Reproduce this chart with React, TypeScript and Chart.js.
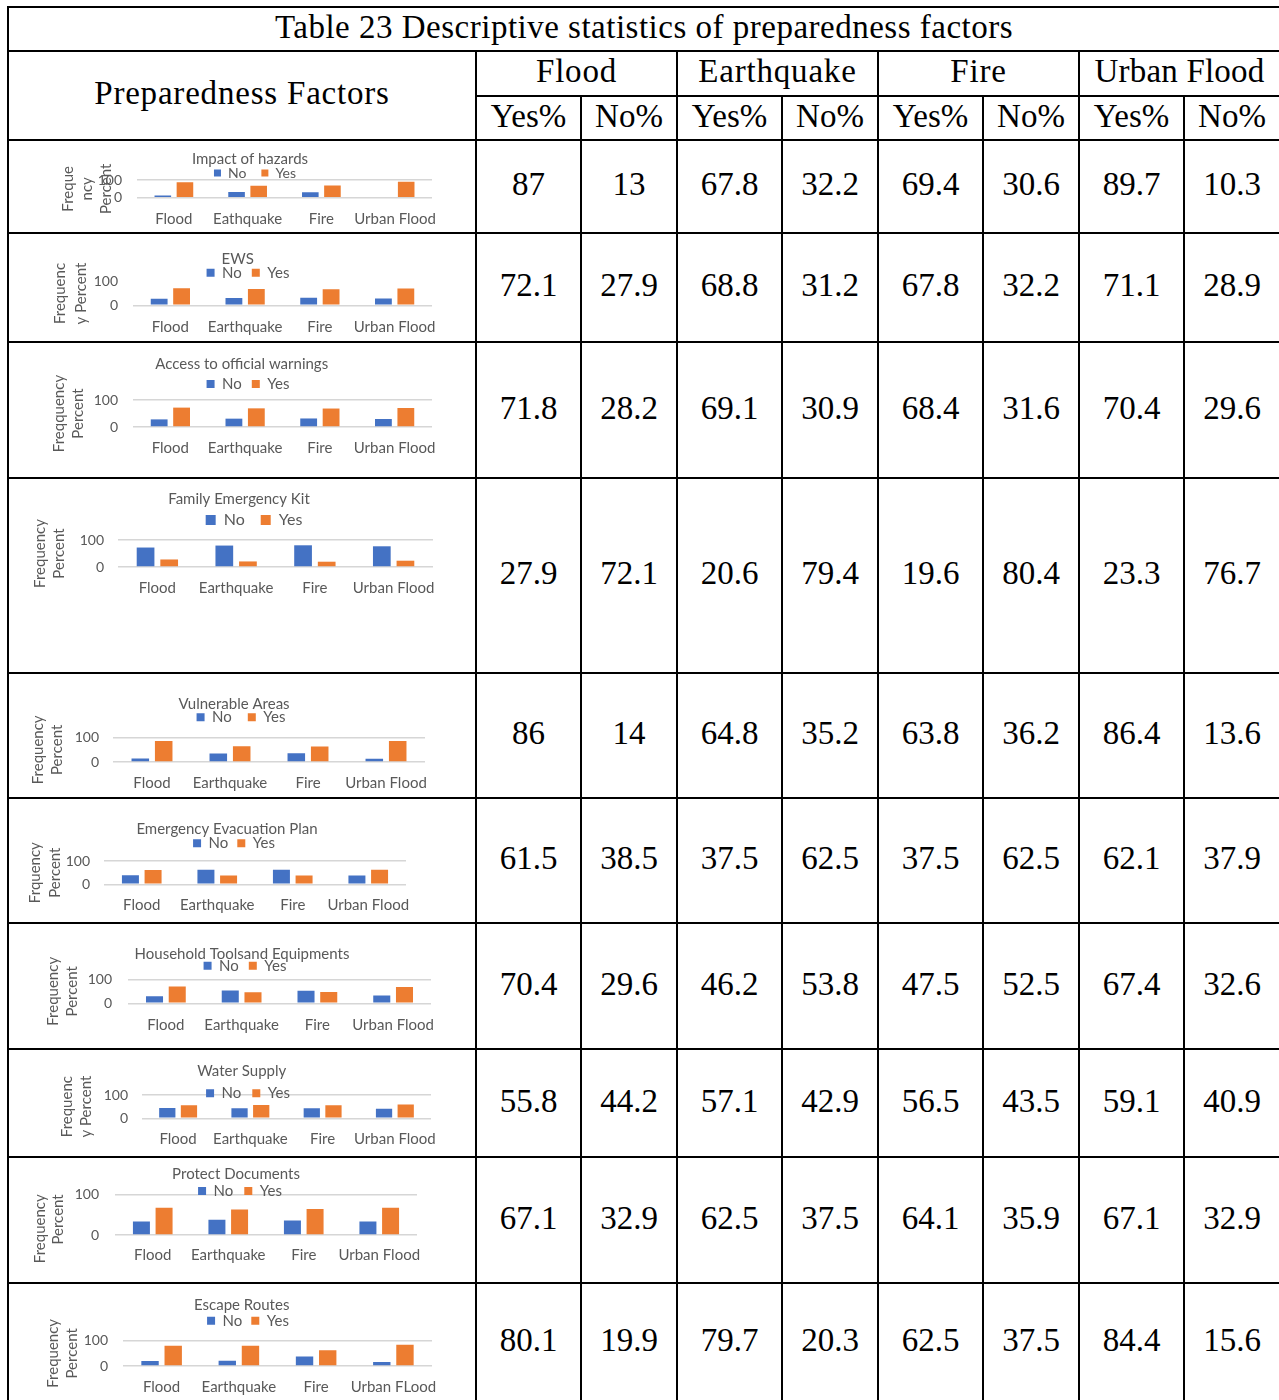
import React, { useEffect, useRef } from 'react';
import { Chart, registerables } from 'chart.js';

Chart.register(...registerables);

// ---------------- data ----------------
const hazards = ['Flood', 'Earthquake', 'Fire', 'Urban Flood'];
const impactLabels = ['Flood', 'Eathquake', 'Fire', 'Urban Flood'];
const escapeLabels = ['Flood', 'Earthquake', 'Fire', 'Urban FLood'];

const tableTitle = 'Table 23 Descriptive statistics of preparedness factors';
const firstHeader = 'Preparedness Factors';
const groupHeads = ['Flood', 'Earthquake', 'Fire', 'Urban Flood'];
const subHeads = ['Yes%', 'No%'];

const chartTitles = [
  'Impact of hazards',
  'EWS',
  'Access to official warnings',
  'Family Emergency Kit',
  'Vulnerable Areas',
  'Emergency Evacuation Plan',
  'Household Toolsand Equipments',
  'Water Supply',
  'Protect Documents',
  'Escape Routes',
];

const axisTitles = [
  ['Freque', 'ncy', 'Percent'],
  ['Frequenc', 'y Percent'],
  ['Freqquency', 'Percent'],
  ['Frequency', 'Percent'],
  ['Frequency', 'Percent'],
  ['Frquency', 'Percent'],
  ['Frequency', 'Percent'],
  ['Frequenc', 'y Percent'],
  ['Frequency', 'Percent'],
  ['Frequency', 'Percent'],
];

// Yes% per hazard (Flood, Earthquake, Fire, Urban Flood)
const yesPct = [
  [87, 67.8, 69.4, 89.7],
  [72.1, 68.8, 67.8, 71.1],
  [71.8, 69.1, 68.4, 70.4],
  [27.9, 20.6, 19.6, 23.3],
  [86, 64.8, 63.8, 86.4],
  [61.5, 37.5, 37.5, 62.1],
  [70.4, 46.2, 47.5, 67.4],
  [55.8, 57.1, 56.5, 59.1],
  [67.1, 62.5, 64.1, 67.1],
  [80.1, 79.7, 62.5, 84.4],
];
// No% per hazard
const noPct = [
  [13, 32.2, 30.6, 10.3],
  [27.9, 31.2, 32.2, 28.9],
  [28.2, 30.9, 31.6, 29.6],
  [72.1, 79.4, 80.4, 76.7],
  [14, 35.2, 36.2, 13.6],
  [38.5, 62.5, 62.5, 37.9],
  [29.6, 53.8, 52.5, 32.6],
  [44.2, 42.9, 43.5, 40.9],
  [32.9, 37.5, 35.9, 32.9],
  [19.9, 20.3, 37.5, 15.6],
];
// the "Impact of hazards" chart shows no Urban Flood "No" bar
const impactChartNo = [13, 32.2, 30.6, 0];

// ---------------- layout / style ----------------
const GRAY = '#595959';
const BLUE = '#4472C4';
const ORANGE = '#ED7D31';
const GRID = '#D6D6D6';
const CFONT = 'Lato, "Noto Sans", sans-serif';
const TFONT = '"Liberation Serif", "Times New Roman", serif';
const CANVAS_LEFT = 10;
const XFS = 15;

type Lay = {
  tx: number; ty: number; tfs: number; lx: number; ly: number; lfs: number; bw: number; lp: number;
  y100: number; y0: number; gridL: number; gridR: number; xLabY: number; yt1: number; ytLh: number;
  tickR: number; hide100?: boolean; ytAlign?: string;
};

const chartLayout: Lay[] = [
  { tx: 250, ty: 158.7, tfs: 15, lx: 255, ly: 173, lfs: 14, bw: 7, lp: 15, y100: 180, y0: 197.7, gridL: 137, gridR: 432, xLabY: 219, yt1: 68, ytLh: 19, tickR: 122 },
  { tx: 237.7, ty: 259.3, tfs: 15, lx: 248, ly: 272.7, lfs: 15, bw: 8, lp: 10, y100: 281.7, y0: 305.3, gridL: 133, gridR: 432, xLabY: 326.7, yt1: 60, ytLh: 21, tickR: 118, hide100: true },
  { tx: 241.7, ty: 364.3, tfs: 15, lx: 248, ly: 384, lfs: 15, bw: 8, lp: 10, y100: 400, y0: 427, gridL: 133, gridR: 432, xLabY: 448, yt1: 59, ytLh: 19, tickR: 118 },
  { tx: 239, ty: 499, tfs: 15, lx: 254, ly: 520, lfs: 16, bw: 10, lp: 16, y100: 540, y0: 567, gridL: 118, gridR: 433, xLabY: 588, yt1: 40, ytLh: 19, tickR: 104 },
  { tx: 234, ty: 704.3, tfs: 15, lx: 241, ly: 717.3, lfs: 15, bw: 8, lp: 16, y100: 737.7, y0: 762, gridL: 113, gridR: 425, xLabY: 782.7, yt1: 38, ytLh: 19, tickR: 99 },
  { tx: 227, ty: 829.3, tfs: 15, lx: 234, ly: 843.3, lfs: 15, bw: 8, lp: 9, y100: 861, y0: 884.3, gridL: 104, gridR: 406, xLabY: 905.3, yt1: 35, ytLh: 20, tickR: 90 },
  { tx: 242, ty: 954, tfs: 15, lx: 245, ly: 965.7, lfs: 15, bw: 8, lp: 10, y100: 979.3, y0: 1003.3, gridL: 128, gridR: 431, xLabY: 1025, yt1: 53, ytLh: 19, tickR: 112 },
  { tx: 241.7, ty: 1071, tfs: 15, lx: 248, ly: 1093.3, lfs: 15, bw: 8, lp: 11, y100: 1095, y0: 1118.3, gridL: 142, gridR: 431, xLabY: 1139.3, yt1: 67, ytLh: 19, tickR: 128 },
  { tx: 236, ty: 1174.3, tfs: 15, lx: 240, ly: 1191, lfs: 15, bw: 8, lp: 11, y100: 1194.3, y0: 1235, gridL: 115, gridR: 417, xLabY: 1255.3, yt1: 40, ytLh: 18, tickR: 99, ytAlign: 'end' },
  { tx: 241.7, ty: 1305, tfs: 15, lx: 248, ly: 1320.7, lfs: 15, bw: 8, lp: 9, y100: 1340.7, y0: 1366, gridL: 123, gridR: 432, xLabY: 1387.3, yt1: 53, ytLh: 19, tickR: 108 },
];

// table grid lines (left/top edges, 2px thick)
const vLines = [
  { x: 7, y: 6 }, { x: 475, y: 50 }, { x: 580, y: 95 }, { x: 676, y: 50 }, { x: 781, y: 95 },
  { x: 877, y: 50 }, { x: 982, y: 95 }, { x: 1078, y: 50 }, { x: 1183, y: 95 },
];
const headLines = [{ y: 6, x: 7 }, { y: 50, x: 7 }, { y: 95, x: 475 }];
const rowLines = [139, 232, 341, 477, 672, 797, 922, 1048, 1156, 1282];
const colLines = [475, 580, 676, 781, 877, 982, 1078, 1183, 1279];
const PAGE_W = 1279;
const PAGE_H = 1400;

function MiniChart({ i }: { i: number }) {
  const ref = useRef<HTMLCanvasElement | null>(null);
  const L = chartLayout[i];
  const top = Math.floor(L.ty - 14);
  const right = L.gridR + 22;
  const xLh = XFS * 1.2;
  const xPad = L.xLabY - L.y0 - xLh / 2;
  const xAxisH = xPad + xLh + 2;
  const H = Math.ceil(L.y0 + xAxisH - top);
  const W = right - CANVAS_LEFT;

  useEffect(() => {
    const c = ref.current;
    if (!c) return;
    const labels = i === 0 ? impactLabels : i === 9 ? escapeLabels : hazards;
    const noData = i === 0 ? impactChartNo : noPct[i];
    const tLh = L.tfs * 1.2;
    const placer = {
      id: 'placer',
      afterLayout(chart: any) {
        const t = chart.titleBlock;
        if (t) {
          t.left = L.tx - CANVAS_LEFT - 200;
          t.right = t.left + 400;
          t.top = L.ty - top - tLh / 2;
          t.bottom = t.top + tLh;
        }
        const lg = chart.legend;
        if (lg) {
          lg.left = L.lx - CANVAS_LEFT - 150;
          lg.right = lg.left + 300;
          lg.top = L.ly - top - L.lp - L.lfs / 2;
          lg.bottom = lg.top + L.lp + L.lfs + 8;
        }
      },
    };
    const chart = new Chart(c, {
      type: 'bar',
      data: {
        labels,
        datasets: [
          { label: 'No', data: noData, backgroundColor: BLUE, categoryPercentage: 0.6, barPercentage: 0.75 },
          { label: 'Yes', data: yesPct[i], backgroundColor: ORANGE, categoryPercentage: 0.6, barPercentage: 0.75 },
        ],
      },
      options: {
        animation: false,
        responsive: false,
        maintainAspectRatio: false,
        devicePixelRatio: 1,
        events: [],
        layout: { padding: { top: L.y100 - top - 1, left: 0, right: right - L.gridR, bottom: H - (L.y0 + xAxisH - top) } },
        plugins: {
          tooltip: { enabled: false },
          title: {
            display: true,
            text: chartTitles[i],
            color: GRAY,
            font: { family: CFONT, size: L.tfs, weight: 'normal', lineHeight: 1.2 },
            padding: { top: 0, bottom: -tLh },
          },
          legend: {
            display: true,
            position: 'top',
            maxHeight: 1,
            labels: {
              color: GRAY,
              boxWidth: L.bw,
              boxHeight: L.bw,
              padding: L.lp,
              font: { family: CFONT, size: L.lfs },
            },
          },
        },
        scales: {
          x: {
            grid: { display: false, drawTicks: false },
            border: { display: false },
            ticks: { color: GRAY, font: { family: CFONT, size: XFS, lineHeight: 1.2 }, padding: xPad, maxRotation: 0, autoSkip: false },
            afterFit: (s: any) => { s.height = xAxisH; },
          },
          y: {
            min: 0,
            max: 100,
            afterBuildTicks: (s: any) => { s.ticks = [{ value: 0 }, { value: 100 }]; },
            grid: {
              drawTicks: false,
              lineWidth: 1.5,
              color: (ctx: any) => (L.hide100 && ctx.tick && ctx.tick.value === 100 ? 'rgba(0,0,0,0)' : GRID),
            },
            border: { display: false },
            ticks: { color: GRAY, font: { family: CFONT, size: 14 }, padding: L.gridL - L.tickR, autoSkip: false },
            title: {
              display: true,
              text: axisTitles[i],
              color: GRAY,
              align: L.ytAlign || 'center',
              font: { family: CFONT, size: 15, lineHeight: `${L.ytLh}px` },
              padding: { top: L.yt1 - CANVAS_LEFT - L.ytLh / 2, bottom: 0 },
            },
            afterFit: (s: any) => { s.width = L.gridL - CANVAS_LEFT; },
          },
        },
      },
      plugins: [placer],
    } as any);
    return () => chart.destroy();
  }, []);

  return (
    <canvas
      ref={ref}
      width={W}
      height={H}
      style={{ position: 'absolute', left: CANVAS_LEFT, top, width: W, height: H }}
    />
  );
}

function Cell({ x0, x1, y0, y1, text, spacing = 0 }: { x0: number; x1: number; y0: number; y1: number; text: string; spacing?: number }) {
  return (
    <div
      style={{
        position: 'absolute',
        left: x0,
        top: y0,
        width: x1 - x0,
        height: y1 - y0,
        display: 'flex',
        alignItems: 'center',
        justifyContent: 'center',
        fontFamily: TFONT,
        fontSize: 33,
        lineHeight: 1,
        color: '#000',
        whiteSpace: 'nowrap',
        letterSpacing: spacing,
      }}
    >
      <span style={{ position: 'relative', top: -2 }}>{text}</span>
    </div>
  );
}

export default function App() {
  const cells: React.ReactNode[] = [];
  cells.push(<Cell key="title" x0={9} x1={PAGE_W} y0={8} y1={50} text={tableTitle} spacing={0.5} />);
  cells.push(<Cell key="pf" x0={9} x1={475} y0={52} y1={139} text={firstHeader} spacing={0.8} />);
  groupHeads.forEach((g, k) => {
    cells.push(<Cell key={'g' + k} x0={colLines[2 * k] + 2} x1={colLines[2 * k + 2]} y0={52} y1={95} text={g} spacing={k === 3 ? 0.2 : 0.8} />);
  });
  for (let k = 0; k < 8; k++) {
    cells.push(<Cell key={'s' + k} x0={colLines[k] + 2} x1={colLines[k + 1]} y0={97} y1={139} text={subHeads[k % 2]} />);
  }
  for (let r = 0; r < yesPct.length; r++) {
    const y0 = rowLines[r] + 2;
    const y1 = r + 1 < rowLines.length ? rowLines[r + 1] : PAGE_H;
    for (let k = 0; k < 8; k++) {
      const h = Math.floor(k / 2);
      const v = k % 2 === 0 ? yesPct[r][h] : noPct[r][h];
      cells.push(<Cell key={`d${r}-${k}`} x0={colLines[k] + 2} x1={colLines[k + 1]} y0={y0} y1={y1} text={String(v)} />);
    }
  }

  const lines: React.ReactNode[] = [];
  headLines.forEach((l, k) => {
    lines.push(<div key={'h' + k} style={{ position: 'absolute', left: l.x, top: l.y, width: PAGE_W - l.x, height: 2, background: '#000' }} />);
  });
  rowLines.forEach((y, k) => {
    lines.push(<div key={'r' + k} style={{ position: 'absolute', left: 7, top: y, width: PAGE_W - 7, height: 2, background: '#000' }} />);
  });
  vLines.forEach((l, k) => {
    lines.push(<div key={'v' + k} style={{ position: 'absolute', left: l.x, top: l.y, width: 2, height: PAGE_H - l.y, background: '#000' }} />);
  });

  return (
    <div style={{ position: 'absolute', left: 0, top: 0, width: PAGE_W, height: PAGE_H, overflow: 'hidden', background: '#fff' }}>
      {chartLayout.map((_, i) => (
        <MiniChart key={i} i={i} />
      ))}
      {cells}
      {lines}
    </div>
  );
}
